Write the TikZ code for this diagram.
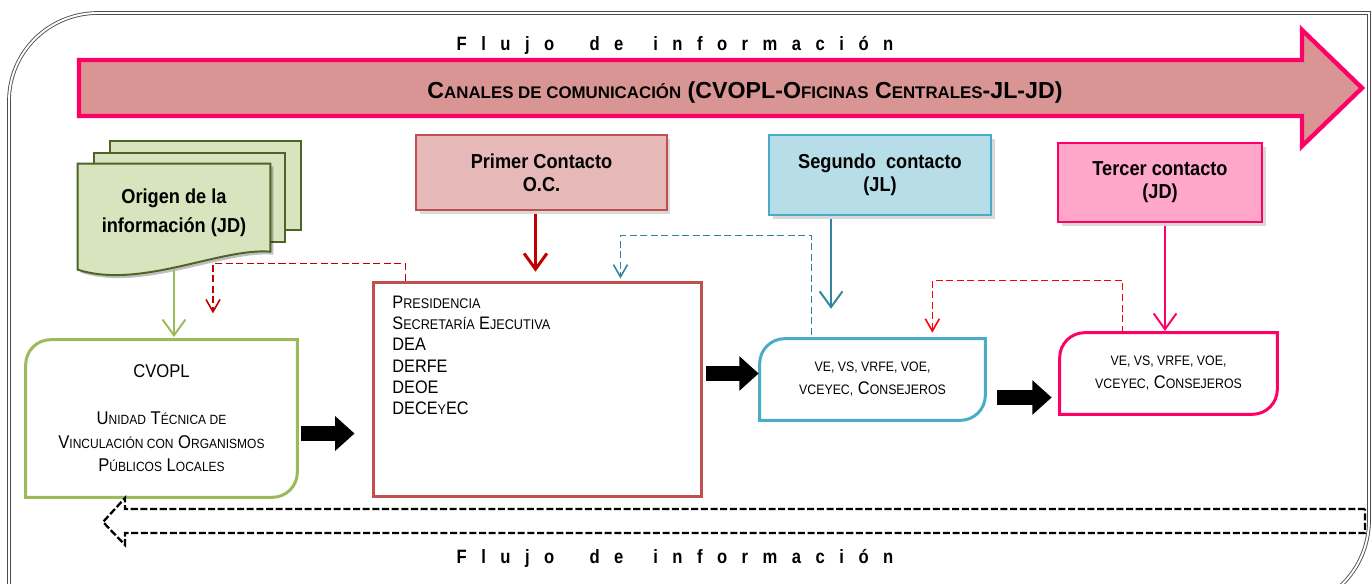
\documentclass[tikz,border=0pt]{standalone}
\usepackage{fontspec}
\setmainfont[FakeStretch=0.9]{Liberation Sans}
\newfontfamily\ancha{Liberation Sans}
\newfontfamily\espaciada[FakeStretch=0.86,LetterSpace=75]{Liberation Sans}
\usepackage{tikz}
\usetikzlibrary{positioning,calc,arrows.meta,shadows}
\definecolor{rosa}{HTML}{FF0066}
\definecolor{rojoclaro}{HTML}{D99594}
\definecolor{verde}{HTML}{9BBB59}
\definecolor{verdeosc}{HTML}{4F6228}
\definecolor{verdeclaro}{HTML}{D7E4BD}
\definecolor{rojo}{HTML}{C0504D}
\definecolor{rojoosc}{HTML}{C00000}
\definecolor{salmon}{HTML}{E6B8B7}
\definecolor{azul}{HTML}{4BACC6}
\definecolor{azulosc}{HTML}{31859C}
\definecolor{celeste}{HTML}{B7DEE8}
\definecolor{rosaclaro}{HTML}{FFA7C9}
\newcommand{\smc}[2][7.6]{{\fontsize{#1}{#1}\selectfont #2}}
\newcommand{\esquinas}[1]{(#1.south west) [rounded corners=0.5cm] -- (#1.north west) [sharp corners] -- (#1.north east) [rounded corners=0.5cm] -- (#1.south east) [sharp corners] -- cycle}
\newcommand{\flujotxt}{Flujo\hspace{20pt}de\hspace{17pt}información}
\tikzset{
  contacto/.style={draw, line width=1.1pt, inner sep=0pt, align=center,
    font=\bfseries\fontsize{11.5}{13}\selectfont,
    drop shadow={opacity=0.3, shadow xshift=2pt, shadow yshift=-2pt}},
  destino/.style={inner sep=0pt, align=center, font=\fontsize{10.5}{13.5}\selectfont},
  baja/.style={-{Straight Barb[length=9pt,width=13pt]}, line width=1.1pt},
  retro/.style={dash pattern=on 4pt off 2pt, line width=0.9pt, -{Straight Barb[length=7pt,width=8pt]}},
  bloque/.style={line width=8.5pt, -{Triangle[length=11pt,width=19pt]}},
  flujo/.style={font=\espaciada\bfseries\fontsize{11}{13}\selectfont},
}

\begin{document}
\begin{tikzpicture}[x=0.02cm, y=-0.02cm]
  \useasboundingbox (0,0) rectangle (1372,584);
  \clip (0,0) rectangle (1372,584);

  % Marco
  \draw[gray!60!black, double, double distance=1.1pt, line width=0.5pt]
    (9,640) -- (9,101) .. controls (9,52) and (49,13) .. (98,13) -- (1369,13)
    -- (1369,520) .. controls (1369,570) and (1329,610) .. (1279,610);

  % Flecha grande
  \draw[rosa, fill=rojoclaro, line width=2.5pt, line join=miter]
    (79,60) -- (1302,60) -- (1302,30) -- (1362,88) -- (1302,146) -- (1302,116) -- (79,116) -- cycle;
  \node (canales) at (745,93) {\ancha\bfseries\fontsize{13.2}{15}\selectfont
    C\smc[9.6]{ANALES DE COMUNICACIÓN} (CVOPL-O\smc[9.6]{FICINAS} C\smc[9.6]{ENTRALES}-JL-JD)};
  \node[flujo] (flujoA) at (675,45) {\flujotxt};
  \node[flujo] (flujoB) at (675,558) {\flujotxt};

  % Nodes
  \node[contacto, fill=salmon, draw=rojo, minimum width=5.02cm, minimum height=1.5cm]
    (primer) at (541.5,172.5) {Primer Contacto\\O.C.};
  \node[contacto, fill=celeste, draw=azul, minimum width=4.44cm, minimum height=1.6cm]
    (segundo) at (880,175) {Segundo~ contacto\\(JL)};
  \node[contacto, fill=rosaclaro, draw=rosa, minimum width=4.08cm, minimum height=1.58cm]
    (tercer) at (1160,182.5) {Tercer contacto\\(JD)};

  \node[draw=rojo, line width=1.7pt, minimum width=6.58cm, minimum height=4.3cm,
    label={[anchor=north west, align=left, inner sep=0pt, xshift=0.41cm, yshift=-0.3cm,
      font=\fontsize{10.3}{12.1}\selectfont]
      north west:{P\smc[8]{RESIDENCIA}\\S\smc[8]{ECRETARÍA} E\smc[8]{JECUTIVA}\\DEA\\DERFE\\DEOE\\DECE\smc[8]{Y}EC}}]
    (presid) at (537.5,389.5) {};
  \node[destino, minimum width=5.42cm, minimum height=3.14cm] (cvopl) at (161.5,418.5)
    {CVOPL\\[13pt]U\smc{NIDAD} T\smc{ÉCNICA DE}\\V\smc{INCULACIÓN CON} O\smc{RGANISMOS}\\P\smc{ÚBLICOS} L\smc{OCALES}};
  \node[destino, minimum width=4.5cm, minimum height=1.62cm, font=\fontsize{10.4}{13}\selectfont] (ve1) at (872.5,379.5)
    {\smc[7.8]{VE, VS, VRFE, VOE,}\\\smc[7.8]{VCEYEC,} C\smc[7.8]{ONSEJEROS}};
  \node[destino, minimum width=4.34cm, minimum height=1.62cm, font=\fontsize{10.4}{13}\selectfont] (ve2) at (1168.5,373.5)
    {\smc[7.8]{VE, VS, VRFE, VOE,}\\\smc[7.8]{VCEYEC,} C\smc[7.8]{ONSEJEROS}};
  \draw[verde, line width=1.7pt] \esquinas{cvopl};
  \draw[azul, line width=1.7pt] \esquinas{ve1};
  \draw[rosa, line width=1.7pt] \esquinas{ve2};

  % Origen (hojas)
  \node[inner sep=0pt, minimum width=3.84cm, minimum height=1.94cm] (origen) at (174,212.5) {};
  \draw[verdeosc, fill=verdeclaro, line width=1.1pt]
    ($(origen.north west)+(32,-23)$) rectangle ($(origen.north east)+(31,66)$);
  \draw[verdeosc, fill=verdeclaro, line width=1.1pt]
    ($(origen.north west)+(16,-11)$) rectangle ($(origen.north east)+(15,78)$);
  \fill[black, opacity=0.25]
    ($(origen.north west)+(3,3)$) -- ($(origen.north east)+(3,3)$) -- ($(origen.north east)+(3,91)$)
    .. controls ($(origen.north east)+(-47,87)$) and ($(origen.north west)+(65,129)$) .. ($(origen.north west)+(3,109)$) -- cycle;
  \draw[verdeosc, fill=verdeclaro, line width=1.1pt]
    (origen.north west) -- (origen.north east) -- ($(origen.north east)+(0,88)$)
    .. controls ($(origen.north east)+(-50,84)$) and ($(origen.north west)+(62,126)$) .. ($(origen.north west)+(0,106)$) -- cycle;
  \node[font=\bfseries\fontsize{11.5}{16.5}\selectfont, align=center] (origentxt) at (origen) {Origen de la\\información (JD)};

  % Edges
  \coordinate (s0) at ($(origen.south)+(0,9)$);
  \coordinate (s1) at ($(primer.south)+(-6,3)$);
  \coordinate (s2) at ($(segundo.south west)+(63,3)$);
  \coordinate (s3) at ($(tercer.south)+(5,3)$);
  \draw[baja, verde, shorten >=1.5pt] (s0) -- (s0 |- cvopl.north);
  \draw[baja, rojoosc, line width=1.7pt, shorten >=5pt] (s1) -- (s1 |- presid.north);
  \draw[baja, azulosc, shorten >=17pt] (s2) -- (s2 |- ve1.north);
  \draw[baja, rosa, shorten >=1pt] (s3) -- (s3 |- ve2.north);

  \coordinate (r1) at ($(origen.south)+(39,52)$);
  \coordinate (r2) at ($(presid.north east)+(-83,-2)$);
  \coordinate (r3) at ($(ve1.north east)+(-53,-6)$);
  \draw[retro, rojoosc] ($(presid.north west)+(34,0)$) -- ++(0,-17) -| (r1);
  \draw[retro, azulosc] ($(ve1.north west)+(52,-4)$) -- ++(0,-99) -| (r2);
  \draw[retro, red] ($(ve2.north west)+(63,0)$) -- ++(0,-52) -| (r3);

  \draw[bloque] ($(cvopl.east)+(4,15)$) -- ($(cvopl.east -| presid.west)+(-17,15)$);
  \draw[bloque] ($(ve1.west -| presid.east)+(3,-6)$) -- ($(ve1.west)+(-1,-6)$);
  \draw[bloque] ($(ve1.east)+(12,18)$) -- ($(ve1.east -| ve2.west)+(-8,18)$);

  % Flujo de regreso
  \draw[dash pattern=on 4pt off 1.5pt, line width=1.3pt]
    (1365,509) -- (125,509) -- (125,498) -- (103,522) -- (125,545) -- (125,533) -- (1365,533) -- cycle;

\end{tikzpicture}
\end{document}
